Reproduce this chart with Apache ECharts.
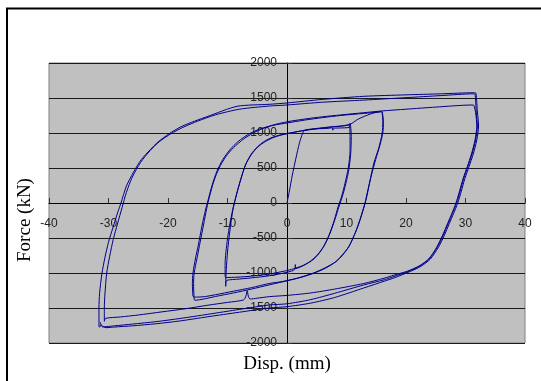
<!DOCTYPE html>
<html><head><meta charset="utf-8">
<script src="https://cdn.jsdelivr.net/npm/echarts@6/dist/echarts.min.js"></script>
<style>html,body{margin:0;padding:0;background:#fff}#c{width:541px;height:381px}</style>
</head><body><div id="c"></div>
<script>
// Axis ticks
const xTicks = [-40, -30, -20, -10, 0, 10, 20, 30, 40];
const yTicks = [-2000, -1500, -1000, -500, 0, 500, 1000, 1500, 2000];

// Hysteresis path, branch by branch: [disp (mm), force (kN)]
const virgin = [[0,0],[0.4,170],[0.9,400],[1.5,640],[2.1,860],[2.6,990],[3.0,1040],[4,1055],[5.5,1062],[7.0,1066],[7.6,1075],[7.7,1040],[7.9,1068],[9,1072],[10.4,1080]];
const down10a = [[10.5,1110],[10.6,950],[10.6,750],[10.3,500],[9.8,300],[9.2,100],[8.6,-50],[8.0,-230],[7.2,-430],[6.3,-600],[5.3,-730],[4.3,-815],[3.0,-880],[1.5,-930],[0,-965],[-3,-1015],[-6,-1045],[-8.4,-1060],[-10.3,-1065]];
const up10a = [[-10.4,-1040],[-10.4,-850],[-10.2,-650],[-9.9,-450],[-9.5,-250],[-9.0,-50],[-8.5,120],[-7.8,330],[-6.9,560],[-6.0,700],[-5.0,800],[-4.0,870],[-2.7,930],[-1,975],[0.5,1000],[3,1040],[5,1065],[7,1085],[9,1100],[10.4,1120]];
const down10b = [[10.6,1140],[10.8,950],[10.7,700],[10.4,480],[9.9,280],[9.3,90],[8.7,-60],[8.0,-250],[7.1,-460],[6.1,-630],[5.0,-750],[3.8,-840],[2.5,-905],[1.5,-935],[1.4,-880],[1.3,-950],[0,-990],[-3,-1040],[-6,-1070],[-8.5,-1090],[-10.2,-1110],[-10.3,-1190]];
const up10b = [[-10.3,-1150],[-10.2,-950],[-10.0,-700],[-9.6,-400],[-9.1,-100],[-8.6,80],[-7.9,300],[-7.0,540],[-6.0,690],[-4.9,800],[-3.6,880],[-2,945],[0,990],[2.5,1030],[5,1060],[7.5,1085],[10.4,1115],[12,1200],[14,1270],[15.7,1305]];
const down16a = [[16.0,1300],[16.2,1150],[16.1,1000],[15.6,820],[14.9,620],[14.2,400],[13.5,150],[13.1,0],[12.4,-200],[11.5,-420],[10.4,-620],[9.3,-750],[8.2,-840],[6.5,-930],[4.3,-1010],[2,-1070],[-1,-1125],[-3,-1150],[-6,-1210],[-9,-1260],[-12,-1310],[-13.9,-1338],[-15.6,-1345]];
const up16a = [[-15.8,-1330],[-15.9,-1150],[-15.8,-1000],[-15.4,-800],[-14.9,-600],[-14.3,-330],[-13.7,-100],[-13.3,30],[-12.6,250],[-11.8,450],[-10.8,620],[-9.6,760],[-8.2,880],[-6.5,980],[-4.5,1060],[-2,1115],[0,1143],[3,1185],[6,1220],[9,1250],[12.9,1280],[15.6,1300]];
const down16b = [[15.9,1310],[16.1,1160],[16.0,1000],[15.4,780],[14.6,571],[13.9,300],[13.3,50],[12.1,-290],[11.2,-480],[10.4,-624],[9.3,-740],[8.2,-838],[6.3,-930],[4.3,-1005],[1.5,-1080],[-3,-1170],[-6,-1230],[-9,-1285],[-12,-1335],[-13.9,-1370],[-15.5,-1390]];
const up16b = [[-15.6,-1370],[-15.7,-1150],[-15.6,-1000],[-15.1,-780],[-14.6,-560],[-14.0,-300],[-13.5,-80],[-13.0,100],[-12.3,310],[-11.4,500],[-10.3,660],[-9.0,790],[-7.2,920],[-5,1030],[-2.5,1110],[0,1160],[3,1200],[6,1232],[9,1258],[12.9,1290],[16,1315],[20,1340],[25,1370],[31.1,1400]];
const down32a = [[31.4,1395],[31.7,1290],[31.9,1100],[31.6,900],[31.0,700],[30.3,520],[29.6,350],[29.0,170],[28.4,0],[27.7,-150],[27.0,-290],[26.1,-470],[25.1,-640],[23.8,-800],[22.2,-900],[20.2,-975],[18,-1030],[16.3,-1075],[12.9,-1150],[8,-1230],[4,-1285],[0,-1320],[-3,-1338],[-5,-1360],[-6.2,-1372],[-6.5,-1330],[-6.7,-1250],[-6.9,-1330],[-7.3,-1385],[-10,-1420],[-13.3,-1460],[-17,-1510],[-21,-1555],[-25,-1600],[-28,-1628],[-30.5,-1648]];
const up32a = [[-30.7,-1690],[-30.7,-1500],[-30.6,-1300],[-30.3,-1000],[-29.8,-760],[-29.2,-520],[-28.5,-300],[-27.7,-60],[-27.0,150],[-26.0,370],[-24.6,580],[-23,750],[-21.4,880],[-19.5,990],[-17.5,1080],[-15,1170],[-12,1260],[-8,1340],[-3,1385],[0,1400],[6,1440],[12.9,1470],[20,1505],[26,1535],[31.3,1560]];
const down32b = [[31.6,1555],[31.8,1300],[32.0,1100],[31.7,900],[31.1,700],[30.4,520],[29.7,350],[29.1,170],[28.5,0],[27.8,-150],[27.1,-290],[26.2,-470],[25.2,-640],[23.9,-800],[22.3,-900],[20.3,-980],[18,-1050],[16.4,-1095],[12.9,-1171],[8,-1290],[4,-1380],[0,-1440],[-3,-1457],[-8,-1520],[-13.3,-1590],[-18,-1650],[-22,-1695],[-26,-1730],[-29,-1755],[-31,-1770],[-31.3,-1740],[-31.5,-1775]];
const up32b = [[-31.6,-1760],[-31.6,-1500],[-31.5,-1290],[-31.1,-1005],[-30.6,-780],[-30.0,-560],[-29.2,-338],[-28.4,-120],[-27.9,0],[-27.0,240],[-25.8,440],[-24.5,619],[-23,760],[-21.7,870],[-19.8,990],[-17.8,1090],[-15.5,1170],[-13.3,1238],[-8.4,1381],[-3,1410],[0,1429],[6,1480],[12.9,1524],[20,1545],[26,1560],[31.4,1575]];
const down32c = [[31.7,1575],[32.0,1300],[32.2,1100],[31.9,900],[31.3,700],[30.6,520],[29.9,350],[29.3,170],[28.7,0],[28.0,-150],[27.3,-290],[26.4,-470],[25.4,-640],[24.1,-800],[22.5,-905],[20.5,-985],[18,-1070],[16.6,-1110],[12.9,-1214],[8,-1350],[4,-1430],[0,-1481],[-3,-1500],[-8,-1560],[-13.3,-1625],[-18,-1685],[-22,-1725],[-26,-1755],[-29,-1772],[-30.4,-1781],[-31.2,-1745],[-31.4,-1700]];

const path = [].concat(virgin, down10a, up10a, down10b, up10b, down16a, up16a, down16b, up16b, down32a, up32a, down32b, up32b, down32c);

const chart = echarts.init(document.getElementById('c'), null, {renderer: 'canvas'});
chart.setOption({
  animation: false,
  backgroundColor: '#fff',
  grid: {left: 49, top: 63, width: 476, height: 280, show: true, backgroundColor: '#C0C0C0', borderColor: '#808080', borderWidth: 1},
  xAxis: {
    type: 'value', min: xTicks[0], max: xTicks[xTicks.length-1], interval: 10,
    position: 'bottom', offset: -140,
    axisLine: {onZero: false, lineStyle: {color: '#000', width: 1}},
    axisTick: {inside: true, length: 5, lineStyle: {color: '#333'}},
    axisLabel: {margin: 15, fontSize: 12, color: '#222', fontFamily: 'Liberation Sans', formatter: v => String(v)},
    splitLine: {show: false}
  },
  yAxis: {
    type: 'value', min: yTicks[0], max: yTicks[yTicks.length-1], interval: 500,
    position: 'left', offset: -238,
    axisLine: {onZero: false, lineStyle: {color: '#000', width: 1}},
    axisTick: {inside: true, length: 5, lineStyle: {color: '#333'}},
    axisLabel: {margin: 10, fontSize: 12, color: '#222', fontFamily: 'Liberation Sans', formatter: v => String(v)},
    splitLine: {show: true, lineStyle: {color: '#1a1a1a', width: 1}}
  },
  series: [{
    type: 'line', data: path, showSymbol: false, smooth: 0.25, smoothMonotone: 'none',
    lineStyle: {color: '#00008B', width: 1}, clip: true
  }],
  graphic: [
    {type: 'rect', shape: {x: 7, y: 8.5, width: 600, height: 400}, style: {fill: 'none', stroke: '#000', lineWidth: 2}, silent: true},
    {type: 'text', x: 287, y: 364, style: {text: 'Disp. (mm)', font: '19px "Liberation Serif"', fill: '#000', textAlign: 'center', textVerticalAlign: 'middle'}},
    {type: 'text', x: 25, y: 220, rotation: Math.PI/2, style: {text: 'Force (kN)', font: '19px "Liberation Serif"', fill: '#000', textAlign: 'center', textVerticalAlign: 'middle'}}
  ]
});
</script></body></html>
